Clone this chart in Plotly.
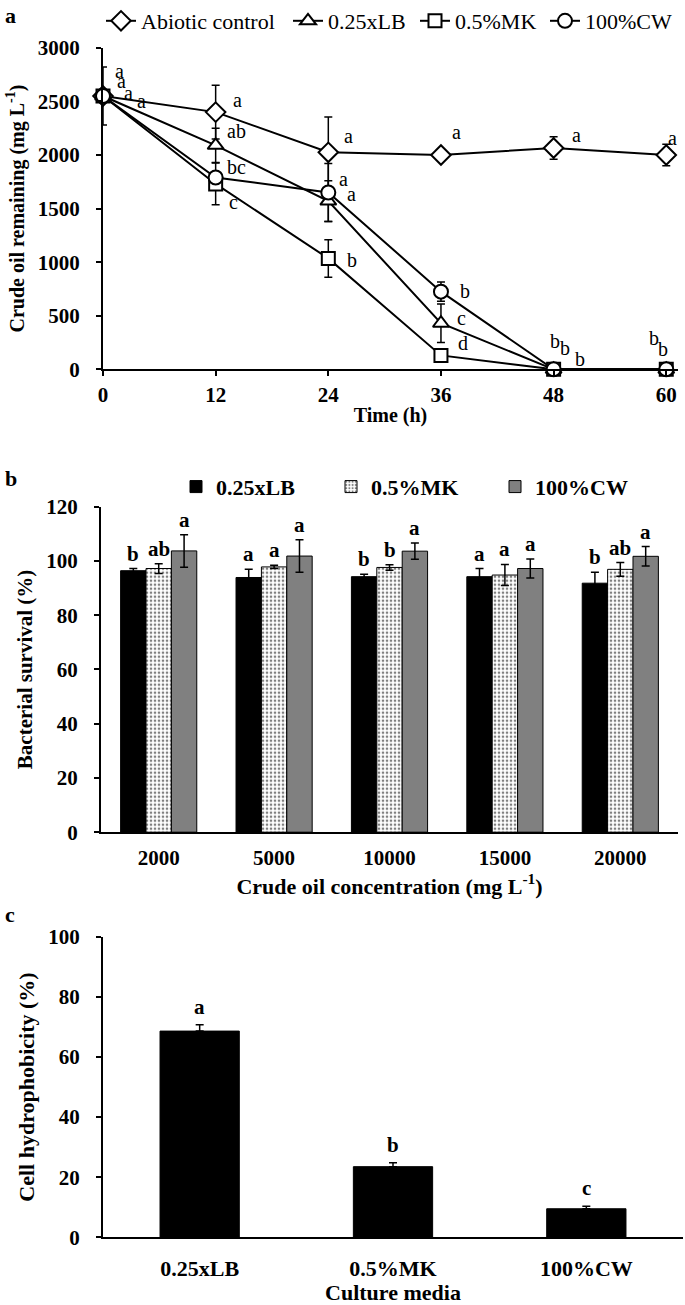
import plotly.graph_objects as go

FONT = "Liberation Serif"

# ---------------- Panel a data ----------------
time_h = [0, 12, 24, 36, 48, 60]
abiotic = [2550, 2400, 2025, 2000, 2065, 2000]
abiotic_err = [0, 250, 330, 0, 105, 100]
lb = [2550, 2090, 1570, 430, 0, 0]
lb_err = [270, 160, 190, 180, 0, 0]
mk = [2550, 1730, 1035, 130, 0, 0]
mk_err = [0, 195, 175, 0, 0, 0]
cw = [2550, 1790, 1650, 725, 0, 0]
cw_err = [0, 0, 270, 90, 0, 0]

a_letters = ["a", "a", "a", "a",
             "a", "ab", "bc", "c",
             "a", "a", "a", "b",
             "a", "b", "c", "d",
             "a", "b", "b", "b",
             "a", "b", "b", "b"]
a_letter_x = [1.8, 2.0, 2.7, 4.1,
              14.3, 14.2, 14.2, 13.9,
              26.1, 25.6, 26.5, 26.5,
              37.7, 38.6, 38.2, 38.3,
              50.4, 48.1, 49.2, 50.8,
              60.7, 58.65, 59.7, 61.3]
a_letter_y = [2786, 2693, 2579, 2508,
              2510, 2220, 1888, 1560,
              2176, 1774, 1634, 1021,
              2213, 727, 480, 247,
              2182, 262, 201, 92,
              2155, 294, 185, 123]

# ---------------- Panel b data ----------------
conc = ["2000", "5000", "10000", "15000", "20000"]
surv_lb = [96.4, 93.9, 94.2, 94.2, 91.8]
surv_lb_err = [0.8, 3.0, 0.9, 3.0, 4.0]
surv_mk = [97.2, 97.8, 97.6, 94.8, 96.9]
surv_mk_err = [1.8, 0.6, 1.0, 3.9, 2.5]
surv_cw = [103.7, 101.8, 103.6, 97.2, 101.7]
surv_cw_err = [6.0, 6.0, 3.0, 3.5, 3.6]
b_let_lb = ["b", "a", "b", "a", "b"]
b_let_mk = ["ab", "a", "b", "a", "ab"]
b_let_cw = ["a", "a", "a", "a", "a"]

# ---------------- Panel c data ----------------
media = ["0.25xLB", "0.5%MK", "100%CW"]
hydro = [68.6, 23.5, 9.5]
hydro_err = [2.1, 1.3, 0.8]
c_letters = ["a", "b", "c"]

H, W = 1305, 685


def py(pix):
    return 1 - pix / H


def px(pix):
    return pix / W


conc_pos = list(range(len(conc)))
media_pos = list(range(len(media)))

fig = go.Figure()

# ---- panel a: error bars (clipped) ----
series = [
    ("Abiotic control", abiotic, abiotic_err, "diamond", 15, "legend", 101),
    ("0.25xLB", lb, lb_err, "triangle-up", 14, "legend3", 288),
    ("0.5%MK", mk, mk_err, "square", 13, "legend4", 415),
    ("100%CW", cw, cw_err, "circle", 14, "legend5", 545),
]
for name, vals, errs, sym, sz, lg, lx in series:
    fig.add_trace(go.Scatter(
        x=time_h, y=vals, mode="markers", xaxis="x", yaxis="y",
        marker=dict(size=2, color="rgba(0,0,0,0)"),
        error_y=dict(type="data", array=errs, color="black", thickness=1.5, width=4),
        showlegend=False, hoverinfo="skip", cliponaxis=True))
for name, vals, errs, sym, sz, lg, lx in series:
    fig.add_trace(go.Scatter(
        x=time_h, y=vals, mode="lines+markers", name=name, xaxis="x", yaxis="y",
        line=dict(color="black", width=2),
        marker=dict(symbol=sym, size=sz, color="white", line=dict(color="black", width=2)),
        cliponaxis=False, legend=lg))

# ---- panel b ----
bar_line = dict(color="black", width=1)
fig.add_trace(go.Bar(
    x=conc_pos, y=surv_lb, name="0.25xLB", xaxis="x2", yaxis="y2",
    marker=dict(color="black", line=bar_line),
    error_y=dict(type="data", array=surv_lb_err, color="black", thickness=1.5, width=4),
    legend="legend2"))
fig.add_trace(go.Bar(
    x=conc_pos, y=surv_mk, name="0.5%MK", xaxis="x2", yaxis="y2",
    marker=dict(color="white", line=bar_line,
                pattern=dict(shape=".", fgcolor="black", bgcolor="white", size=4, solidity=0.35)),
    error_y=dict(type="data", array=surv_mk_err, color="black", thickness=1.5, width=4),
    legend="legend6"))
fig.add_trace(go.Bar(
    x=conc_pos, y=surv_cw, name="100%CW", xaxis="x2", yaxis="y2",
    marker=dict(color="#808080", line=bar_line),
    error_y=dict(type="data", array=surv_cw_err, color="black", thickness=1.5, width=4),
    legend="legend7"))

# ---- panel c ----
fig.add_trace(go.Bar(
    x=media_pos, y=hydro, xaxis="x3", yaxis="y3", showlegend=False,
    marker=dict(color="black", line=bar_line), width=0.41,
    error_y=dict(type="data", array=hydro_err, color="black", thickness=1.5, width=4, symmetric=False,
                 arrayminus=[0, 0, 0])))

annotations = []
# letters panel a
for t, xx, yy in zip(a_letters, a_letter_x, a_letter_y):
    annotations.append(dict(x=xx, y=yy, xref="x", yref="y", text=t, showarrow=False,
                            font=dict(family=FONT, size=20, color="black")))
# letters panel b
bw = 25.4
for vals, errs, lets, shift in [(surv_lb, surv_lb_err, b_let_lb, -bw),
                                (surv_mk, surv_mk_err, b_let_mk, 0),
                                (surv_cw, surv_cw_err, b_let_cw, bw)]:
    for xp, v, e, t in zip(conc_pos, vals, errs, lets):
        annotations.append(dict(x=xp, y=v + e, xref="x2", yref="y2", text="<b>%s</b>" % t,
                                showarrow=False, xshift=shift, yanchor="bottom", yshift=1,
                                font=dict(family=FONT, size=21, color="black")))
for xp, v, e, t in zip(media_pos, hydro, hydro_err, c_letters):
    annotations.append(dict(x=xp, y=v + e, xref="x3", yref="y3", text="<b>%s</b>" % t,
                            showarrow=False, yanchor="bottom", yshift=4,
                            font=dict(family=FONT, size=21, color="black")))
# panel labels
for lab, ypix in [("a", 10), ("b", 475), ("c", 913)]:
    annotations.append(dict(x=px(3), y=py(ypix), xref="paper", yref="paper", text="<b>%s</b>" % lab,
                            showarrow=False, xanchor="left", yanchor="middle",
                            font=dict(family=FONT, size=22, color="black")))


def tf(size):
    return dict(family=FONT, size=size, color="black", weight="bold")


base = dict(showline=True, linecolor="black", linewidth=2, ticks="outside", ticklen=5,
            tickwidth=2, tickcolor="black", showgrid=False, zeroline=False, automargin=False)


def leg(xpix, ypix, bold=False):
    f = dict(family=FONT, size=22, color="black")
    if bold:
        f["weight"] = "bold"
    return dict(orientation="h", x=px(xpix), y=py(ypix), xanchor="left", yanchor="middle",
                font=f, bgcolor="rgba(0,0,0,0)", itemwidth=30)


layout_legends = {}
for name, vals, errs, sym, sz, lg, lx in series:
    layout_legends[lg] = leg(lx, 15)
layout_legends["legend2"] = leg(176, 483, True)
layout_legends["legend6"] = leg(331, 483, True)
layout_legends["legend7"] = leg(495, 483, True)

fig.update_layout(
    width=W, height=H, paper_bgcolor="white", plot_bgcolor="white",
    margin=dict(l=0, r=0, t=0, b=0),
    font=dict(family=FONT, color="black"),
    barmode="group", bargap=0.34, bargroupgap=0,
    xaxis=dict(domain=[px(103), px(678)], range=[0, 61.25], tickvals=time_h, anchor="y",
               tickfont=tf(21), ticklabelstandoff=0,
               title=dict(text="Time (h)", font=tf(20), standoff=2), **base),
    yaxis=dict(domain=[py(365), py(42)], range=[0, 3000], dtick=500, anchor="x",
               tickfont=tf(21), ticklabelstandoff=12,
               title=dict(text="Crude oil remaining (mg L<sup>-1</sup>)", font=tf(20), standoff=8),
               **base),
    xaxis2=dict(domain=[px(101), px(678)], anchor="y2", range=[-0.5, 4.5],
                tickvals=conc_pos, ticktext=conc, tickfont=tf(21), ticklabelstandoff=6,
                title=dict(text="Crude oil concentration (mg L<sup>-1</sup>)", font=tf(22), standoff=0),
                **{**base, "ticks": ""}),
    yaxis2=dict(domain=[py(830), py(503)], range=[0, 120], dtick=20, anchor="x2",
                tickfont=tf(21), ticklabelstandoff=12,
                title=dict(text="Bacterial survival (%)", font=tf(21), standoff=8),
                **base),
    xaxis3=dict(domain=[px(103), px(683)], anchor="y3", range=[-0.5, 2.5],
                tickvals=media_pos, ticktext=media, tickfont=tf(22), ticklabelstandoff=10,
                title=dict(text="Culture media", font=tf(22), standoff=14),
                **{**base, "ticks": ""}),
    yaxis3=dict(domain=[py(1237), py(935)], range=[0, 100], dtick=20, anchor="x3",
                tickfont=tf(21), ticklabelstandoff=12,
                title=dict(text="Cell hydrophobicity (%)", font=tf(22), standoff=8),
                **base),
    annotations=annotations,
    showlegend=True,
    **layout_legends,
)

fig.write_html("out.html", config={"displayModeBar": False},
               post_script="document.body.style.margin='0';")
